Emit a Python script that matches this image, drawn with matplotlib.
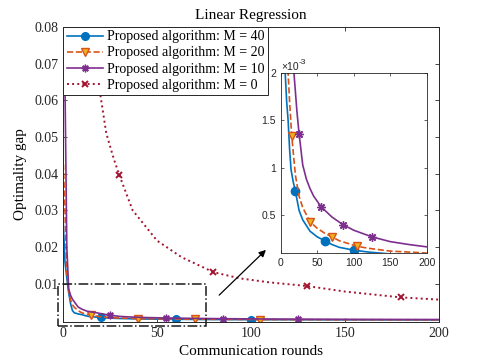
import matplotlib
matplotlib.use("Agg")
import matplotlib.pyplot as plt
from matplotlib.patches import Rectangle

plt.rcParams['font.family'] = ['Liberation Serif', 'DejaVu Serif']

# M = 40
x40 = [0, 1, 2, 3, 4, 5, 6, 8, 10, 12, 14, 17, 20, 25, 30, 40, 50, 60, 70, 80, 100, 120, 150, 200]
y40 = [0.028, 0.016, 0.0115, 0.0075, 0.0045, 0.0026, 0.0020, 0.0017, 0.0015, 0.0012, 0.00098,
       0.00085, 0.00075, 0.00055, 0.00045, 0.00033, 0.00027, 0.00023, 0.00019, 0.00016,
       0.00013, 0.00011, 0.00009, 0.00007]
mk40 = [20, 60, 100]

# M = 20
x20 = [0, 1, 2, 3, 4, 5, 6, 8, 10, 12, 15, 20, 25, 30, 40, 50, 60, 70, 80, 105, 120, 150, 200]
y20 = [0.045, 0.030, 0.013, 0.008, 0.0055, 0.0042, 0.0035, 0.0026, 0.0020, 0.0017, 0.00133,
       0.00092, 0.00070, 0.00058, 0.00043, 0.00036, 0.00031, 0.00027, 0.00023, 0.00017,
       0.00015, 0.00012, 0.00010]
mk20 = [15, 40, 70, 105]

# M = 10
x10 = [0, 1, 2, 3, 4, 5, 6, 8, 10, 13, 18, 22, 25, 30, 35, 40, 45, 55, 70, 85, 100, 125, 150, 175, 200]
y10 = [0.09, 0.065, 0.020, 0.0085, 0.0068, 0.0057, 0.0050, 0.0036, 0.0030, 0.0024, 0.0020,
       0.0016, 0.00136, 0.00103, 0.00088, 0.00078, 0.00070, 0.00059, 0.00048, 0.00040,
       0.00034, 0.00027, 0.00022, 0.00019, 0.000165]
mk10 = [25, 55, 85, 125]

# M = 0
x0 = [0, 5, 10, 15, 20, 23, 27, 30, 37, 50, 63, 80, 94, 110, 130, 150, 180, 200]
y0 = [0.15, 0.12, 0.09, 0.072, 0.061, 0.051, 0.044, 0.0395, 0.030, 0.0217, 0.0172, 0.0131,
      0.0114, 0.0103, 0.0093, 0.0078, 0.0062, 0.0056]
mk0 = [30, 80, 130, 180]

labels = ['Proposed algorithm: M = 40', 'Proposed algorithm: M = 20',
          'Proposed algorithm: M = 10', 'Proposed algorithm: M = 0']

blue = '#0072BD'
orange = '#D95319'
yellow = '#EDB120'
purple = '#7E2F8E'
red = '#A2142F'


def draw(ax, ms, lw):
    ax.plot(x40, y40, '-', color=blue, lw=lw, marker='o', ms=ms, mfc=blue, mec=blue,
            markevery=[x40.index(m) for m in mk40], label=labels[0])
    ax.plot(x20, y20, '--', color=orange, lw=lw, marker='v', ms=ms, mfc=yellow, mec=orange,
            markevery=[x20.index(m) for m in mk20], label=labels[1])
    ax.plot(x10, y10, '-', color=purple, lw=lw, marker=(8, 2, 0), ms=ms, mfc=purple, mec=purple,
            markevery=[x10.index(m) for m in mk10], label=labels[2])
    ax.plot(x0, y0, ':', color=red, lw=lw + 0.2, marker='x', ms=ms - 1.5, mec=red, mew=1.4,
            markevery=[x0.index(m) for m in mk0], label=labels[3])


fig = plt.figure(figsize=(4.85, 3.63), dpi=100)
ax = fig.add_axes([0.13, 0.113, 0.775, 0.8127])
draw(ax, 5.5, 1.2)
ax.set_xlim(0, 200)
ax.set_ylim(-0.0005, 0.08)
ax.set_xticks([0, 50, 100, 150, 200])
ax.set_yticks([0.01, 0.02, 0.03, 0.04, 0.05, 0.06, 0.07, 0.08])
ax.set_yticklabels(['0.01', '0.02', '0.03', '0.04', '0.05', '0.06', '0.07', '0.08'])
ax.tick_params(direction='in', top=True, right=True, labelsize=10, length=3, width=0.6,
               colors='#262626')
for s in ax.spines.values():
    s.set_linewidth(0.7)
    s.set_color('#262626')
ax.set_title('Linear Regression', fontsize=11, pad=6)
ax.set_xlabel('Communication rounds', fontsize=11, labelpad=4)
ax.set_ylabel('Optimality gap', fontsize=11, labelpad=5)

leg = ax.legend(loc='upper left', fontsize=10, borderaxespad=0, fancybox=False,
                framealpha=1, edgecolor='#262626', handlelength=2.65, handletextpad=0.3,
                borderpad=0.25, labelspacing=0.22)
leg.get_frame().set_linewidth(0.7)

# zoom box and arrow
ax.add_patch(Rectangle((-2.5, -0.0016), 78.5, 0.0116, fill=False, ls='-.', lw=1.1,
                       ec='#1a1a1a', clip_on=False, zorder=5))
ax.annotate('', xy=(109, 0.0197), xytext=(82, 0.0063),
            arrowprops=dict(arrowstyle='-|>', color='black', lw=0.9, mutation_scale=10))

# inset
axi = fig.add_axes([0.579, 0.303, 0.301, 0.496])
draw(axi, 6, 1.2)
axi.set_xlim(0, 200)
axi.set_ylim(0.0001, 0.002)
axi.set_xticks([0, 50, 100, 150, 200])
axi.set_yticks([0.0005, 0.001, 0.0015, 0.002])
axi.set_yticklabels(['0.5', '1', '1.5', '2'])
axi.tick_params(direction='in', top=True, right=True, labelsize=7.5, length=2.5, width=0.5,
                colors='#262626')
for lab in axi.get_xticklabels() + axi.get_yticklabels():
    lab.set_family(['Liberation Sans', 'DejaVu Sans'])
for s in axi.spines.values():
    s.set_linewidth(0.6)
    s.set_color('#262626')
axi.text(0.0, 1.005, '\u00d710', transform=axi.transAxes, fontsize=7.5,
         family=['Liberation Sans', 'DejaVu Sans'], ha='left', va='bottom', color='#262626')
axi.text(0.125, 1.04, '-3', transform=axi.transAxes, fontsize=6,
         family=['Liberation Sans', 'DejaVu Sans'], ha='left', va='bottom', color='#262626')

fig.savefig('out.png', dpi=100)
